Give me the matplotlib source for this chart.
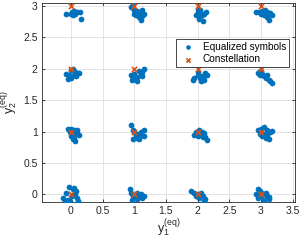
import matplotlib
matplotlib.use("Agg")
import matplotlib.pyplot as plt

# equalized symbols (cluster by cluster)
eq_x = [
    # (0,3)
    -0.08, 0.02, 0.05, 0.07, 0.10, 0.14, 0.03, 0.16, 0.00,
    # (1,3)
    0.98, 0.95, 1.00, 1.05, 1.10, 1.13, 1.02, 1.07, 1.10, 1.12, 1.05, 0.99, 1.15,
    # (2,3)
    2.00, 2.03, 2.00, 2.05, 2.10, 2.13, 1.98, 2.03, 2.07, 2.08, 2.02,
    # (3,3)
    2.92, 2.97, 3.02, 3.06, 3.10, 3.15, 3.18, 3.05, 3.10, 3.00, 3.12,
    # (0,2)
    -0.08, -0.03, 0.00, 0.03, 0.06, 0.10, 0.13, 0.00, -0.05, 0.05, 0.08,
    # (1,2)
    0.95, 0.98, 1.02, 1.05, 1.10, 1.13, 1.15, 1.08, 1.00, 1.04, 0.96, 1.12,
    # (2,2)
    1.95, 2.00, 2.03, 2.07, 2.12, 2.10, 2.05, 1.92, 2.00, 2.15, 2.08,
    # (3,2)
    2.95, 2.98, 3.02, 3.05, 3.08, 3.12, 3.18, 3.00, 3.10, 3.15, 2.97,
    # (0,1)
    -0.05, 0.00, 0.05, 0.10, 0.13, 0.05, 0.00, 0.03, 0.07, -0.02, 0.10, 0.05,
    # (1,1)
    0.95, 0.98, 1.00, 1.04, 1.10, 1.15, 1.12, 1.05, 0.98, 1.08, 1.15, 1.02,
    # (2,1)
    1.97, 2.02, 2.07, 2.10, 2.05, 2.00, 2.12, 2.15, 1.95, 2.08, 2.03,
    # (3,1)
    2.95, 3.00, 3.05, 3.10, 3.15, 3.18, 3.05, 3.02, 3.08, 3.12, 2.98, 3.10,
    # (0,0)
    -0.03, 0.03, -0.08, -0.12, -0.05, 0.02, 0.07, 0.10, 0.12, 0.05, -0.02, 0.08, -0.10,
    # (1,0)
    0.93, 0.95, 0.98, 1.02, 1.05, 1.10, 1.15, 1.12, 1.05, 0.97, 1.00, 1.08,
    # (2,0)
    1.90, 1.95, 2.00, 2.04, 2.08, 2.12, 2.10, 2.02, 1.97, 2.06,
    # (3,0)
    2.95, 2.98, 2.92, 2.96, 3.00, 3.05, 3.10, 3.13, 3.05, 3.00, 3.08, 3.12,
]
eq_y = [
    2.87, 2.90, 2.92, 2.88, 2.91, 2.91, 2.86, 2.79, 2.88,
    3.03, 2.98, 2.93, 2.92, 2.90, 2.93, 2.85, 2.82, 2.78, 2.84, 2.88, 2.88, 2.87,
    2.96, 2.93, 2.90, 2.88, 2.88, 2.90, 2.85, 2.84, 2.85, 2.76, 2.80,
    2.90, 2.90, 2.92, 2.93, 2.90, 2.89, 2.85, 2.85, 2.82, 2.87, 2.78,
    1.92, 1.90, 1.98, 2.00, 1.95, 1.93, 1.93, 1.85, 1.84, 1.90, 1.88,
    1.90, 1.85, 1.84, 1.87, 1.90, 1.95, 2.00, 1.96, 1.92, 1.80, 1.82, 1.88,
    1.85, 1.90, 1.85, 1.88, 1.93, 1.82, 1.80, 1.82, 1.95, 1.90, 1.85,
    1.94, 1.90, 1.92, 1.88, 1.85, 1.82, 1.78, 1.96, 1.90, 1.80, 1.95,
    1.05, 1.05, 1.03, 0.98, 0.95, 0.95, 0.93, 0.88, 0.85, 1.00, 1.02, 0.90,
    1.10, 1.03, 1.00, 0.97, 1.00, 1.02, 0.95, 0.90, 0.88, 0.88, 0.93, 0.95,
    1.00, 1.02, 1.00, 0.98, 0.95, 0.93, 0.92, 0.87, 0.95, 0.92, 0.97,
    1.02, 1.05, 1.08, 1.03, 1.00, 1.01, 0.97, 0.93, 0.90, 0.88, 0.97, 0.95,
    0.12, 0.08, 0.02, -0.05, -0.08, -0.03, 0.00, -0.06, -0.10, 0.10, -0.10, 0.05, -0.10,
    0.08, 0.02, -0.02, 0.00, 0.03, 0.00, -0.03, -0.05, -0.07, -0.08, -0.05, -0.03,
    0.06, 0.02, 0.00, -0.02, -0.03, -0.07, -0.11, -0.05, -0.03, 0.02,
    0.09, 0.05, 0.00, -0.05, -0.03, 0.00, -0.02, -0.07, -0.08, 0.02, 0.03, -0.04,
]

levels = [0, 1, 2, 3]
const_x = [a for a in levels for b in levels]
const_y = [b for a in levels for b in levels]

xticks = [0, 0.5, 1, 1.5, 2, 2.5, 3, 3.5]
yticks = [0, 0.5, 1, 1.5, 2, 2.5, 3]

plt.rcParams["font.family"] = "Liberation Sans"
plt.rcParams["mathtext.fontset"] = "custom"
plt.rcParams["mathtext.rm"] = "Liberation Sans"
plt.rcParams["mathtext.default"] = "regular"

fig = plt.figure(figsize=(2.99, 2.41), dpi=100)
ax = fig.add_axes([0.140, 0.163, 0.847, 0.825])

ax.scatter(eq_x, eq_y, s=17, color="#0072BD", linewidths=0, zorder=3,
           label="Equalized symbols")
ax.scatter(const_x, const_y, s=14, marker="x", color="#D95319", linewidths=1.2,
           zorder=4, label="Constellation")

ax.set_xlim(-0.458, 3.539)
ax.set_ylim(-0.115, 3.05)
ax.set_xticks(xticks)
ax.set_xticklabels(["0", "0.5", "1", "1.5", "2", "2.5", "3", "3.5"])
ax.set_yticks(yticks)
ax.set_yticklabels(["0", "0.5", "1", "1.5", "2", "2.5", "3"])
ax.grid(True, color="#e3e3e3", linewidth=0.7, zorder=0)
ax.set_axisbelow(True)
ax.tick_params(direction="in", length=2.5, width=0.6, labelsize=7.5,
               colors="#262626", top=True, right=True, pad=3)
for sp in ax.spines.values():
    sp.set_color("#262626")
    sp.set_linewidth(0.6)

ax.set_xlabel(r"$y_1^{(eq)}$", fontsize=9, color="#262626", labelpad=1)
ax.set_ylabel(r"$y_2^{(eq)}$", fontsize=9, color="#262626", labelpad=2)

leg = ax.legend(loc="upper right", bbox_to_anchor=(0.976, 0.819), fontsize=7.2,
                fancybox=False, framealpha=1, edgecolor="#262626",
                handletextpad=0.6, borderpad=0.3, labelspacing=0.25,
                handlelength=1.8, borderaxespad=0, markerscale=0.8)
leg.get_frame().set_linewidth(0.6)

fig.savefig("out.png", dpi=100)
